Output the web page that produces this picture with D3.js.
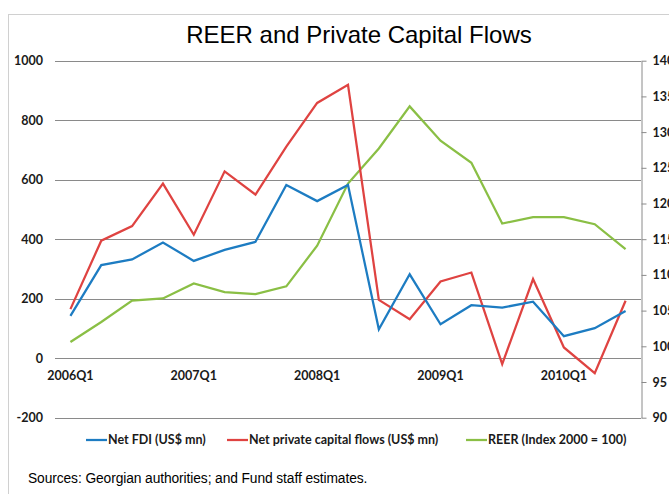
<!DOCTYPE html>
<html>
<head>
<meta charset="utf-8">
<script src="https://cdn.jsdelivr.net/npm/d3@7"></script>
<style>
  html, body { margin: 0; padding: 0; background: #fff; }
  svg { display: block; }
  .tick-label { font-family: Lato, "Open Sans", sans-serif; font-weight: 700; font-size: 12.5px; fill: #1a1a1a; }
  .legend-label { font-family: Lato, "Open Sans", sans-serif; font-weight: 700; font-size: 12.5px; fill: #1a1a1a; }
</style>
</head>
<body>
<script>
// Quarterly series, 2006Q1 – 2010Q3
const quarters = [
  "2006Q1","2006Q2","2006Q3","2006Q4",
  "2007Q1","2007Q2","2007Q3","2007Q4",
  "2008Q1","2008Q2","2008Q3","2008Q4",
  "2009Q1","2009Q2","2009Q3","2009Q4",
  "2010Q1","2010Q2","2010Q3"
];
const netFDI = [142, 313, 332, 389, 327, 364, 391, 582, 528, 582, 97, 282, 114, 178, 170, 190, 74, 101, 159];
const netPrivate = [165, 395, 444, 587, 415, 628, 550, 711, 858, 919, 196, 131, 258, 288, -20, 266, 36, -50, 193];
const reer = [100.6, 103.4, 106.4, 106.7, 108.8, 107.6, 107.3, 108.4, 114.1, 122.8, 127.7, 133.6, 128.8, 125.7, 117.2, 118.1, 118.1, 117.1, 113.6];

const leftTicks = [-200, 0, 200, 400, 600, 800, 1000];
const rightTicks = [90, 95, 100, 105, 110, 115, 120, 125, 130, 135, 140];
const xTickLabels = ["2006Q1", "2007Q1", "2008Q1", "2009Q1", "2010Q1"];

const seriesNames = ["Net FDI (US$ mn)", "Net private capital flows (US$ mn)", "REER (Index 2000 = 100)"];
const seriesColors = ["#1d7cc2", "#df4341", "#8abf45"];

const W = 669, H = 494;
const plot = { left: 55, right: 641, top: 60.7, bottom: 417.7 };

const svg = d3.select("body").append("svg").attr("width", W).attr("height", H);

// Outer chart frame
svg.append("rect")
  .attr("x", 8.5).attr("y", 14.5)
  .attr("width", W + 20).attr("height", H + 20)
  .attr("fill", "none").attr("stroke", "#d0d0d0").attr("stroke-width", 1);

// Title
svg.append("text")
  .attr("x", 359).attr("y", 43)
  .attr("text-anchor", "middle")
  .attr("font-family", "'Liberation Sans', Arial, sans-serif")
  .attr("font-size", 24)
  .attr("fill", "#000")
  .text("REER and Private Capital Flows");

const x = d3.scaleBand().domain(quarters).range([plot.left, plot.right]).padding(0);
const yL = d3.scaleLinear().domain([-200, 1000]).range([plot.bottom, plot.top]);
const yR = d3.scaleLinear().domain([90, 140]).range([plot.bottom, plot.top]);
const cx = q => x(q) + x.bandwidth() / 2;

// Horizontal gridlines from the left axis
svg.append("g").selectAll("line").data(leftTicks).join("line")
  .attr("x1", plot.left).attr("x2", plot.right)
  .attr("y1", d => Math.round(yL(d)) + 0.5).attr("y2", d => Math.round(yL(d)) + 0.5)
  .attr("stroke", "#8a8a8a").attr("stroke-width", 1);

// Left axis labels
svg.append("g").selectAll("text").data(leftTicks).join("text")
  .attr("class", "tick-label")
  .attr("x", 43).attr("y", d => yL(d))
  .attr("dy", "0.35em")
  .attr("text-anchor", "end")
  .text(d => d);

// Right axis
const rightAxis = d3.axisRight(yR).tickValues(rightTicks).tickSize(5).tickPadding(6).tickSizeOuter(0);
const gR = svg.append("g").attr("transform", `translate(${plot.right + 0.5},0)`).call(rightAxis);
gR.select(".domain").attr("stroke", "#8a8a8a");
gR.selectAll(".tick line").attr("stroke", "#8a8a8a");
gR.selectAll(".tick text").attr("class", "tick-label").attr("font-size", null).attr("font-family", null).attr("fill", null);

// Category labels below the zero line
const xAxis = d3.axisBottom(x).tickValues(xTickLabels).tickSize(0).tickPadding(13);
const gX = svg.append("g").attr("transform", `translate(0,${yL(0)})`).call(xAxis);
gX.select(".domain").remove();
gX.selectAll(".tick text").attr("class", "tick-label").attr("font-size", null).attr("font-family", null).attr("fill", null);

// Series lines
const lineL = d3.line().x((d, i) => cx(quarters[i])).y(d => yL(d));
const lineR = d3.line().x((d, i) => cx(quarters[i])).y(d => yR(d));

const series = [
  { values: netFDI, gen: lineL },
  { values: netPrivate, gen: lineL },
  { values: reer, gen: lineR }
];
// Draw green first, then red, then blue (blue on top)
[2, 1, 0].forEach(i => {
  svg.append("path")
    .datum(series[i].values)
    .attr("d", series[i].gen)
    .attr("fill", "none")
    .attr("stroke", seriesColors[i])
    .attr("stroke-width", 2.25)
    .attr("stroke-linejoin", "miter");
});

// Legend
const legendX = [86, 227, 466];
const lg = svg.append("g").selectAll("g").data(seriesNames).join("g")
  .attr("transform", (d, i) => `translate(${legendX[i]},440)`);
lg.append("line")
  .attr("x1", 0).attr("x2", 21).attr("y1", 0).attr("y2", 0)
  .attr("stroke", (d, i) => seriesColors[i]).attr("stroke-width", 2.25);
lg.append("text")
  .attr("class", "legend-label")
  .attr("x", 22).attr("y", 0).attr("dy", "0.35em")
  .text(d => d);

// Source note
svg.append("text")
  .attr("x", 28).attr("y", 483)
  .attr("font-family", "'Liberation Sans', Arial, sans-serif")
  .attr("font-size", 13.8)
  .attr("letter-spacing", "-0.1")
  .attr("fill", "#000")
  .text("Sources: Georgian authorities; and Fund staff estimates.");
</script>
</body>
</html>
